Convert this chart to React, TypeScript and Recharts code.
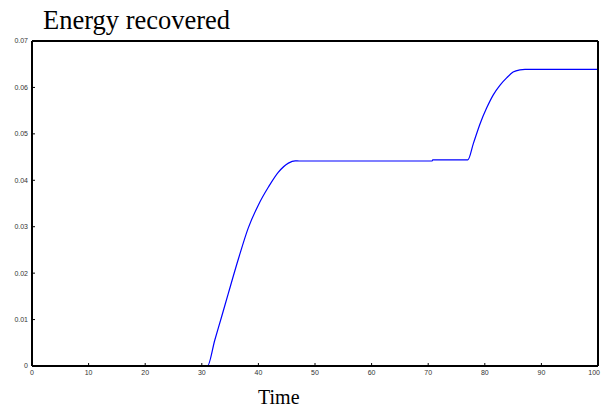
import { LineChart, Line, XAxis, YAxis } from 'recharts';

// time values (x) and recovered energy (y)
const timeValues = [
  0, 31.0, 32.3, 33.5, 34.7, 36.5, 38.2, 40.0, 41.8, 43.5, 45.3, 46.5, 47.2, 70.7, 70.8, 77.0, 78.0, 79.2, 80.3,
  81.5, 82.7, 83.9, 85.0, 86.2, 87.1, 100,
];
const energyValues = [
  0, 0, 0.0056, 0.0106, 0.0157, 0.0232, 0.0297, 0.0347, 0.0386, 0.0417, 0.0437, 0.0442, 0.04415, 0.04415, 0.0444,
  0.0444, 0.048, 0.0523, 0.0555, 0.0584, 0.0605, 0.0621, 0.0633, 0.0638, 0.0639, 0.0639,
];
const xTicks = [0, 10, 20, 30, 40, 50, 60, 70, 80, 90, 100];
const yTicks = [0, 0.01, 0.02, 0.03, 0.04, 0.05, 0.06, 0.07];

const data = timeValues.map((x, i) => ({ x, y: energyValues[i] }));

const FONT = 'Arial, "Liberation Sans", sans-serif';
const tickStyle = { fontSize: 7, fontFamily: FONT, fill: '#333' };
const axisLine = { stroke: '#000', strokeWidth: 2 };
const tickLine = { stroke: '#000', strokeWidth: 1 };
const fmtY = (v: number) => (v === 0 ? '0' : v.toFixed(2));

// last label sits on the right edge of the page, so anchor it at its end
const XTick = (props: any) => {
  const { x, y, payload } = props;
  const last = payload.value === xTicks[xTicks.length - 1];
  return (
    <text
      x={last ? x + 2 : x}
      y={y + 6}
      textAnchor={last ? 'end' : 'middle'}
      fontSize={7}
      fontFamily={FONT}
      fill="#333"
    >
      {payload.value}
    </text>
  );
};

export default function App() {
  return (
    <div style={{ position: 'absolute', left: 0, top: 0, width: 601, height: 408, background: '#fff' }}>
      {/* axes get 1px of room each: Recharts skips drawing an axis whose box is 0 wide/high */}
      <LineChart width={601} height={408} data={data} margin={{ top: 40, right: 2, bottom: 41, left: 31 }}>
        <XAxis
          dataKey="x"
          type="number"
          domain={[0, 100]}
          ticks={xTicks}
          height={1}
          tickSize={-3}
          tickMargin={6}
          tick={<XTick />}
          axisLine={axisLine}
          tickLine={tickLine}
          interval={0}
        />
        <XAxis
          xAxisId="top"
          orientation="top"
          type="number"
          domain={[0, 100]}
          ticks={xTicks}
          height={1}
          tickSize={-3}
          tick={false}
          axisLine={axisLine}
          tickLine={tickLine}
          interval={0}
        />
        <YAxis
          type="number"
          domain={[0, 0.07]}
          ticks={yTicks}
          width={1}
          tickSize={-3}
          tickMargin={7}
          tick={tickStyle}
          tickFormatter={fmtY}
          axisLine={axisLine}
          tickLine={tickLine}
          interval={0}
        />
        <YAxis
          yAxisId="right"
          orientation="right"
          type="number"
          domain={[0, 0.07]}
          ticks={yTicks}
          width={1}
          tickSize={-3}
          tick={false}
          axisLine={axisLine}
          tickLine={tickLine}
          interval={0}
        />
        <Line
          type="monotone"
          dataKey="y"
          stroke="#0000ff"
          strokeWidth={1.2}
          dot={false}
          activeDot={false}
          isAnimationActive={false}
        />
      </LineChart>
      <svg width={601} height={408} style={{ position: 'absolute', left: 0, top: 0, pointerEvents: 'none' }}>
        <text x={43} y={29} fontSize={26.5} fontFamily='"Liberation Serif", "Times New Roman", serif' fill="#000">
          Energy recovered
        </text>
        <text x={258} y={404} fontSize={20} fontFamily='"Liberation Serif", "Times New Roman", serif' fill="#000">
          Time
        </text>
      </svg>
    </div>
  );
}
